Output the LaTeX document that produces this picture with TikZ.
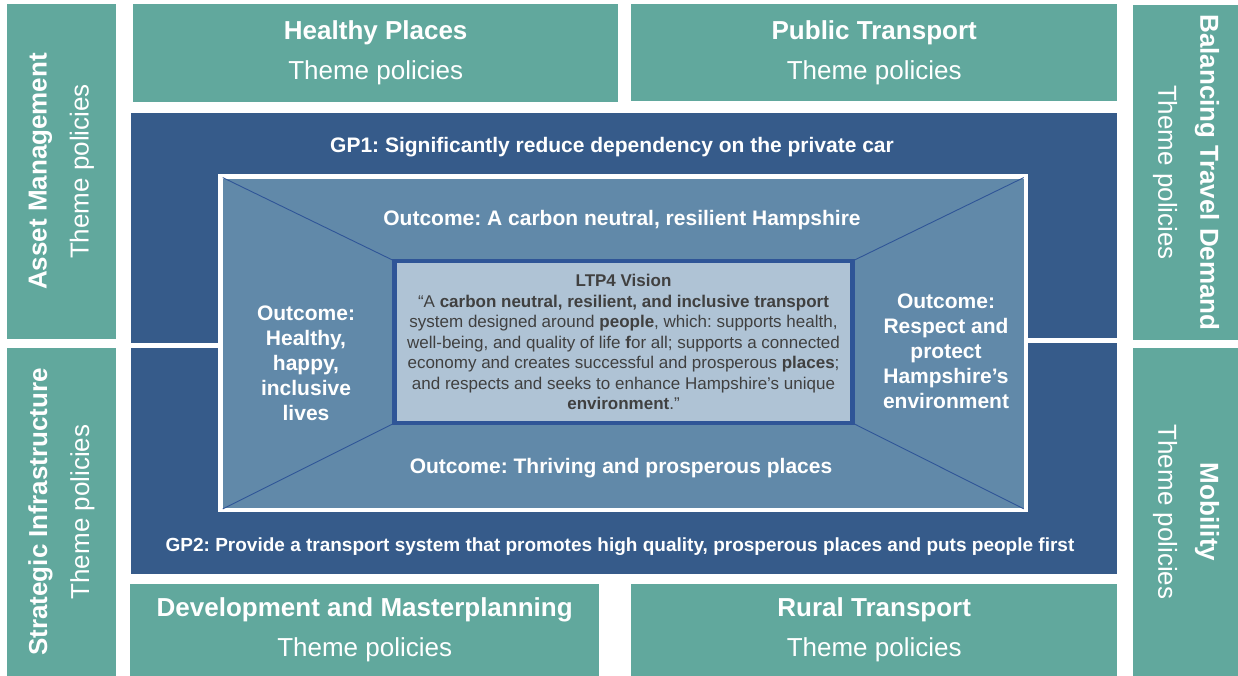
\documentclass[tikz,border=0pt]{standalone}
\usepackage{fontspec}
\setmainfont{Liberation Sans}
\frenchspacing
\usetikzlibrary{positioning}
\definecolor{ltpTeal}{RGB}{97,168,157}
\definecolor{ltpNavy}{RGB}{54,91,138}
\definecolor{ltpSteel}{RGB}{97,137,169}
\definecolor{ltpMist}{RGB}{175,195,213}
\definecolor{ltpRim}{RGB}{47,85,151}
\definecolor{ltpInk}{RGB}{64,64,64}

\begin{document}
\begin{tikzpicture}[x=1pt,y=-1pt,
    theme/.style={fill=ltpTeal,text=white,inner sep=0pt,align=center,font=\fontsize{26}{40}\selectfont},
    sidetheme/.style={theme,font=\fontsize{26}{42}\selectfont},
    goal/.style={text=white,font=\bfseries\fontsize{21}{25}\selectfont,align=center,inner sep=0pt},
    split/.style={draw=white,line width=5pt},
    diag/.style={draw=ltpRim,line width=0.9pt,shorten <=2.5pt,shorten >=2.5pt}]
  \useasboundingbox (0,0) rectangle (1238,676);
  % theme boxes round the edge
  \node[theme,anchor=north west,minimum width=485pt,minimum height=98pt] (healthy) at (133,4) {\textbf{Healthy Places}\\Theme policies};
  \node[theme,anchor=north west,minimum width=486pt,minimum height=97pt] (public) at (631,4) {\textbf{Public Transport}\\Theme policies};
  \node[theme,anchor=north west,minimum width=469pt,minimum height=92pt] (devel) at (130,584) {\textbf{Development and Masterplanning}\\Theme policies};
  \node[theme,anchor=north west,minimum width=486pt,minimum height=92pt] (rural) at (631,584) {\textbf{Rural Transport}\\Theme policies};
  \node[sidetheme,rotate=90,minimum width=335pt,minimum height=109pt] (asset) at (61.5,171.5) {\textbf{Asset Management}\\Theme policies};
  \node[sidetheme,rotate=90,minimum width=328pt,minimum height=109pt] (strategic) at (61.5,512) {\textbf{Strategic Infrastructure}\\Theme policies};
  \node[sidetheme,rotate=-90,minimum width=335pt,minimum height=106pt] (balancing) at (1186,172.5) {\textbf{Balancing Travel Demand}\\Theme policies};
  \node[sidetheme,rotate=-90,minimum width=328pt,minimum height=106pt] (mobility) at (1186,512) {\textbf{Mobility}\\Theme policies};
  % goals
  \node[fill=ltpNavy,anchor=north west,minimum width=986pt,minimum height=461pt,inner sep=0pt] (gp) at (131,113) {};
  \draw[split] (131,345.5) -- (220,345.5);
  \draw[split] (1026,340.5) -- (1117,340.5);
  % outcomes and vision
  \node[draw=white,line width=4.5pt,fill=ltpSteel,minimum width=805.5pt,minimum height=333.5pt,outer sep=0pt,inner sep=0pt] (outcomes) at (623.25,343.25) {};
  \node[draw=ltpRim,line width=4.5pt,fill=ltpMist,minimum width=458pt,minimum height=162pt,outer sep=0pt,inner sep=0pt,
        align=center,text=ltpInk,font=\fontsize{17}{20.5}\selectfont] (vision) at (623.5,342)
    {\textbf{LTP4 Vision}\\
     “A \textbf{carbon neutral, resilient, and inclusive transport}\\
     system designed around \textbf{people}, which: supports health,\\
     well-being, and quality of life \textbf{f}or all; supports a connected\\
     economy and creates successful and prosperous \textbf{places};\\
     and respects and seeks to enhance Hampshire’s unique\\
     \textbf{environment}.”};
  \draw[diag] (outcomes.north west) -- (vision.north west);
  \draw[diag] (outcomes.north east) -- (vision.north east);
  \draw[diag] (outcomes.south west) -- (vision.south west);
  \draw[diag] (outcomes.south east) -- (vision.south east);
  % labels
  \node[goal] (gp1) at (612,147.5) {GP1: Significantly reduce dependency on the private car};
  \node[goal,font=\bfseries\fontsize{19}{23}\selectfont] (gp2) at (620,546.5) {GP2: Provide a transport system that promotes high quality, prosperous places and puts people first};
  \node[goal] (carbon) at (622,220.5) {Outcome: A carbon neutral, resilient Hampshire};
  \node[goal] (thriving) at (621,468.5) {Outcome: Thriving and prosperous places};
  \node[goal] (lives) at (306,363) {Outcome:\\Healthy,\\happy,\\inclusive\\lives};
  \node[goal] (respect) at (946,351) {Outcome:\\Respect and\\protect\\Hampshire’s\\environment};
\end{tikzpicture}
\end{document}
